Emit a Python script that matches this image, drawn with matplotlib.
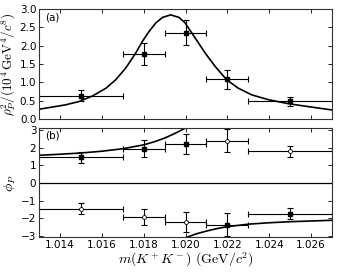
import matplotlib
matplotlib.use('Agg')
import matplotlib.pyplot as plt

plt.rcParams['mathtext.fontset'] = 'cm'
plt.rcParams['font.family'] = 'DejaVu Sans'

# mass bins
mass = [1.015, 1.018, 1.020, 1.022, 1.025]
mass_lo = [1.013, 1.017, 1.019, 1.021, 1.023]
mass_hi = [1.017, 1.019, 1.021, 1.023, 1.027]

# (a) rho^2
rho2 = [0.64, 1.77, 2.35, 1.08, 0.49]
rho2_err = [0.15, 0.29, 0.34, 0.25, 0.12]

# fit curve
fit_m = [1.0130, 1.01364, 1.01427, 1.01491, 1.01555, 1.01619, 1.01666, 1.01714,
         1.01762, 1.01794, 1.01826, 1.01858, 1.0189, 1.01929, 1.01969, 1.01998,
         1.02046, 1.02094, 1.02141, 1.02197, 1.02253, 1.02317, 1.02396, 1.02492,
         1.02588, 1.0270]
fit_rho2 = [0.27, 0.33, 0.39, 0.48, 0.63, 0.84, 1.07, 1.39,
            1.80, 2.12, 2.39, 2.62, 2.77, 2.84, 2.77, 2.62,
            2.21, 1.80, 1.44, 1.07, 0.84, 0.66, 0.53, 0.42,
            0.34, 0.25]

# (b) phase, two solutions
phi_a = [1.45, 1.94, 2.22, -2.36, -1.73]
phi_b = [-1.45, -1.92, -2.20, 2.39, 1.79]
phi_err = [0.32, 0.47, 0.56, 0.64, 0.32]

fit_m_up = [1.0130, 1.0140, 1.0150, 1.0160, 1.0170, 1.0180, 1.0185, 1.0190, 1.0195, 1.0200]
fit_phi_up = [1.56, 1.62, 1.69, 1.79, 1.93, 2.15, 2.32, 2.53, 2.80, 3.10]
fit_m_dn = [1.0200, 1.0205, 1.0210, 1.0215, 1.0220, 1.0230, 1.0240, 1.0250, 1.0260, 1.0270]
fit_phi_dn = [-3.10, -2.88, -2.72, -2.58, -2.47, -2.33, -2.25, -2.19, -2.15, -2.11]

xerr = [[m - lo for m, lo in zip(mass, mass_lo)],
        [hi - m for m, hi in zip(mass, mass_hi)]]

fig = plt.figure(figsize=(3.37, 2.72), dpi=100)
ax1 = fig.add_axes([0.116, 0.562, 0.869, 0.405])
ax2 = fig.add_axes([0.116, 0.127, 0.869, 0.401])

ebkw = dict(fmt='none', ecolor='black', elinewidth=0.8, capsize=2, capthick=0.8)

ax1.plot(fit_m, fit_rho2, color='black', lw=1.2)
ax1.errorbar(mass, rho2, xerr=xerr, yerr=rho2_err, **ebkw)
ax1.plot(mass, rho2, 's', color='black', ms=3.5)
ax1.set_xlim(1.013, 1.027)
ax1.set_ylim(0, 3.0)
ax1.set_yticks([0, 0.5, 1.0, 1.5, 2.0, 2.5, 3.0])
ax1.set_xticks([1.014, 1.016, 1.018, 1.020, 1.022, 1.024, 1.026])
ax1.set_xticklabels([])
ax1.set_ylabel(r'$\rho_P^2/(10^4\,\mathrm{GeV}^4/c^8)$', fontsize=9.5, labelpad=1)
ax1.text(0.02, 0.97, '(a)', transform=ax1.transAxes, ha='left', va='top', fontsize=7.5)

ax2.axhline(0, color='black', lw=0.9)
ax2.plot(fit_m_up, fit_phi_up, color='black', lw=1.2)
ax2.plot(fit_m_dn, fit_phi_dn, color='black', lw=1.2)
ax2.errorbar(mass, phi_b, xerr=xerr, yerr=phi_err, **ebkw)
ax2.errorbar(mass, phi_a, xerr=xerr, yerr=phi_err, **ebkw)
ax2.plot(mass, phi_b, 'o', mfc='white', mec='black', mew=0.6, ms=2.8)
ax2.plot(mass, phi_a, 's', color='black', ms=3.5)
ax2.set_xlim(1.013, 1.027)
ax2.set_ylim(-3.08, 3.08)
ax2.set_yticks([-3, -2, -1, 0, 1, 2, 3])
ax2.set_xticks([1.014, 1.016, 1.018, 1.020, 1.022, 1.024, 1.026])
ax2.set_xticklabels(['1.014', '1.016', '1.018', '1.020', '1.022', '1.024', '1.026'])
ax2.set_ylabel(r'$\phi_P$', fontsize=10, labelpad=2)
ax2.set_xlabel(r'$m(K^+K^-)\ (\mathrm{GeV}/c^2)$', fontsize=10, labelpad=0)
ax2.text(0.02, 0.985, '(b)', transform=ax2.transAxes, ha='left', va='top', fontsize=7.5)

for ax in (ax1, ax2):
    ax.tick_params(direction='in', top=True, right=True, labelsize=7.5,
                   length=3, width=0.6, pad=2)
    for s in ax.spines.values():
        s.set_linewidth(0.8)
        s.set_color('#333333')

fig.savefig('out.png', dpi=100)
